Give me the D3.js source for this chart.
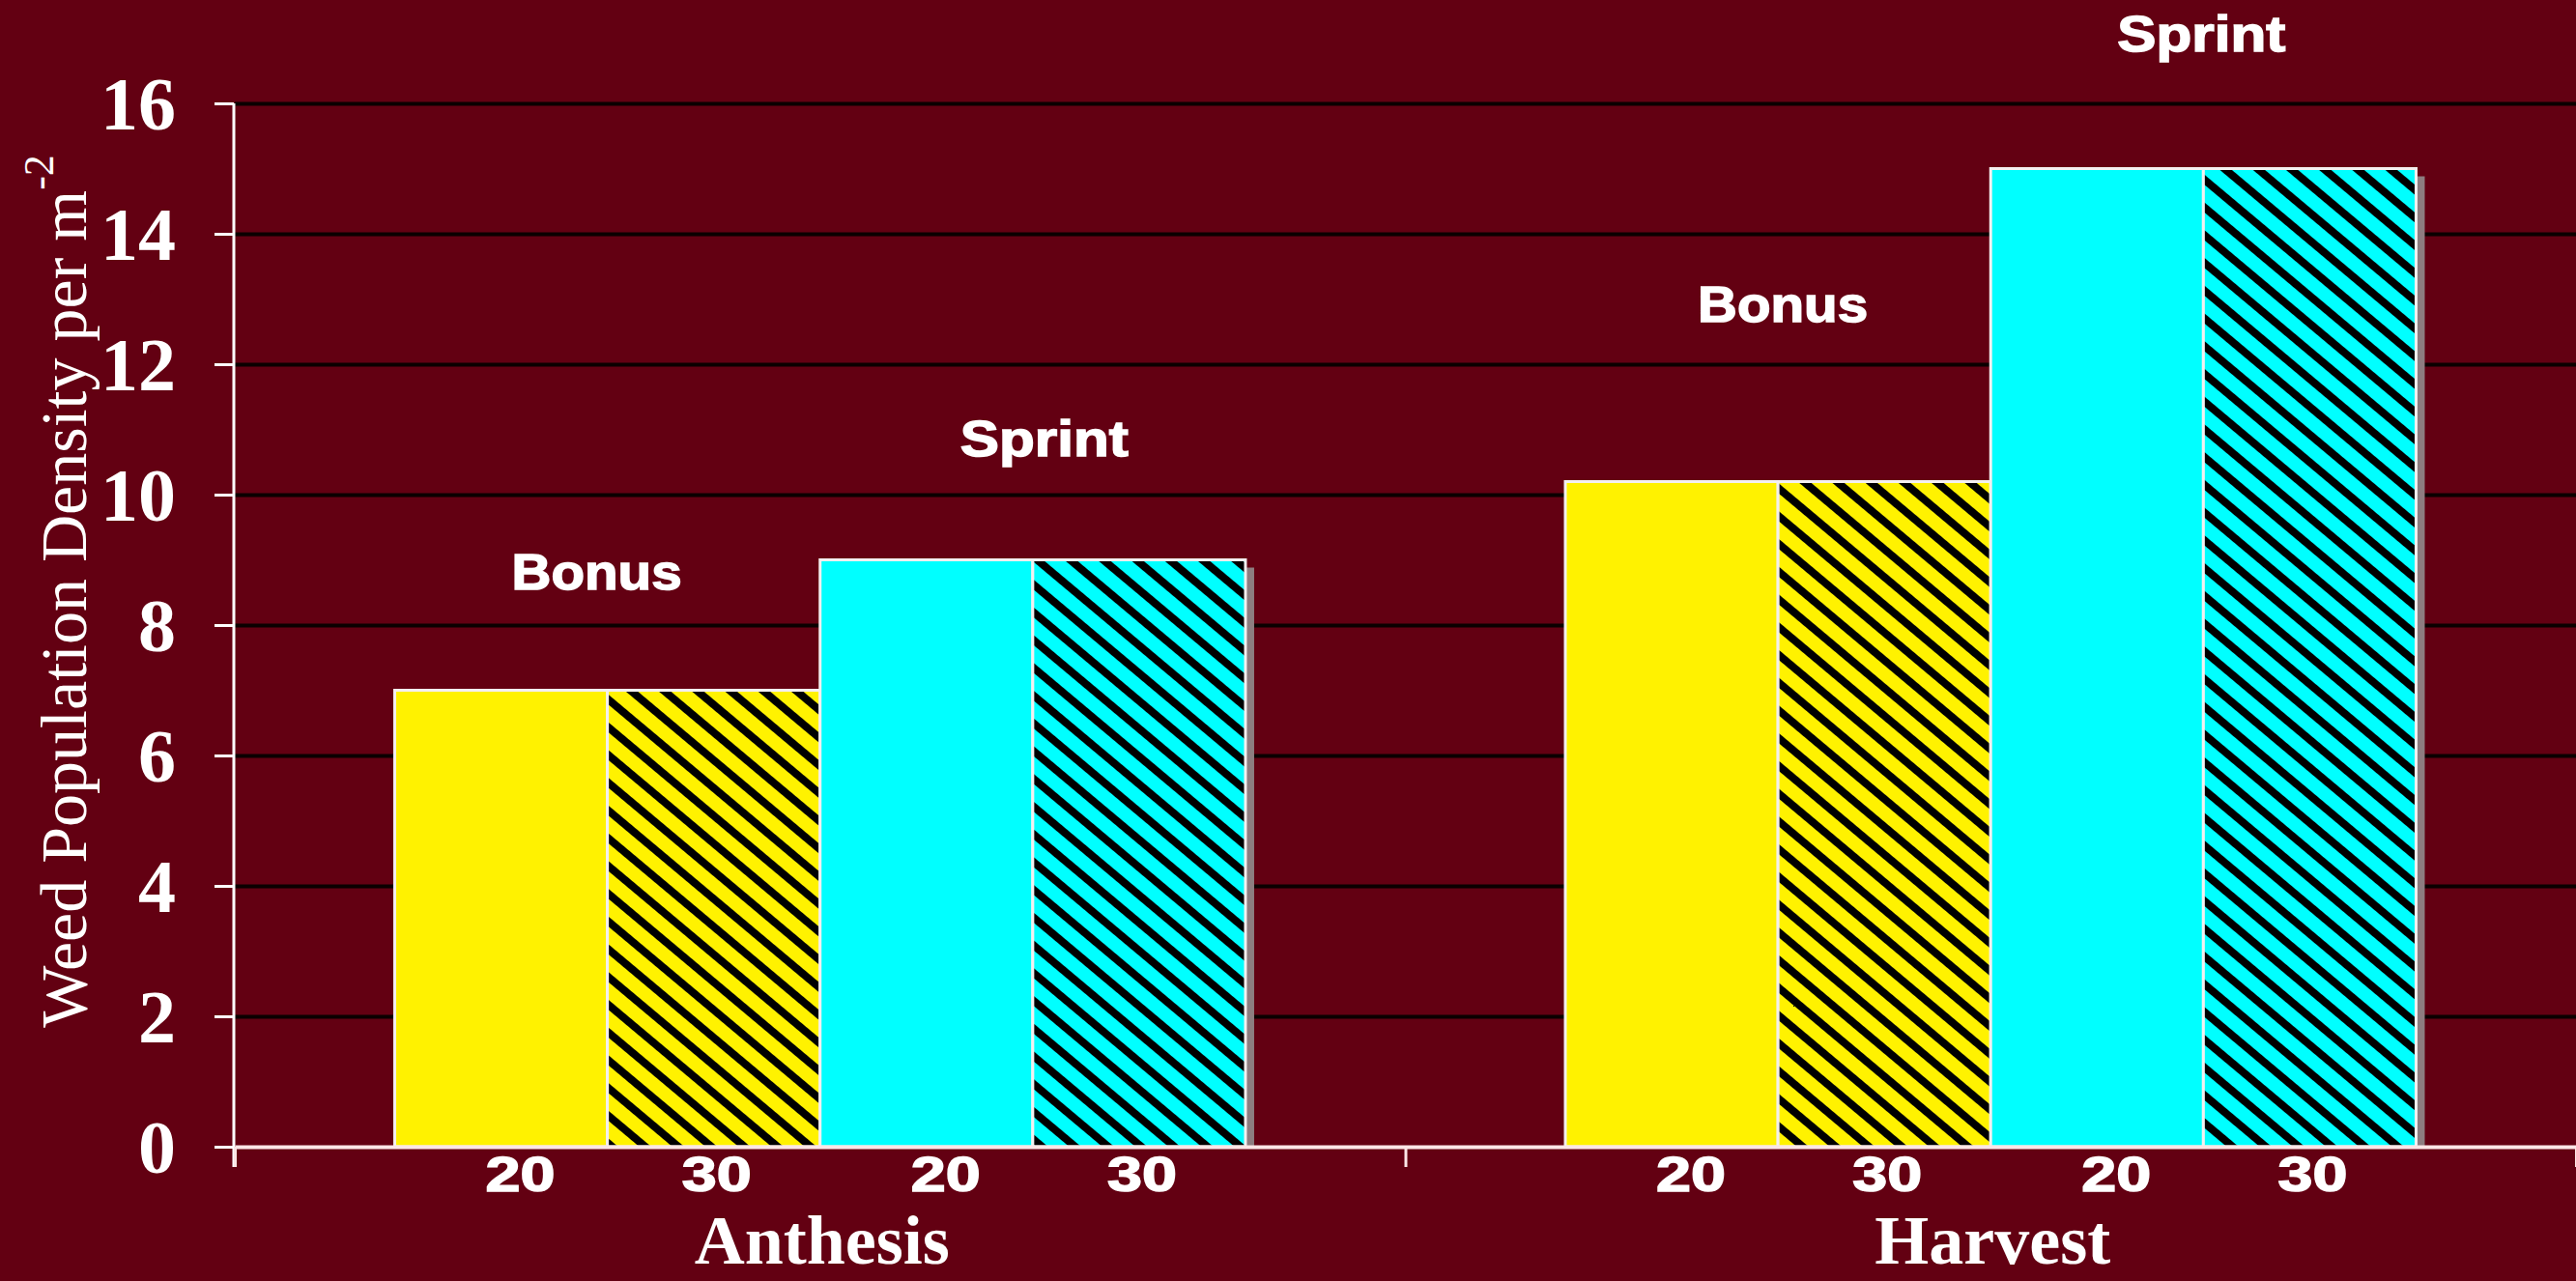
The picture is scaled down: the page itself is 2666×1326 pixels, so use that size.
<!DOCTYPE html>
<html>
<head>
<meta charset="utf-8">
<script src="https://cdn.jsdelivr.net/npm/d3@7"></script>
<style>
  html, body { margin: 0; padding: 0; background: #630012; }
  svg { display: block; }
</style>
</head>
<body>
<svg id="chart" width="2666" height="1326"></svg>
<script>
// ---- data ----
const stages = ["Anthesis", "Harvest"];
const varieties = ["Bonus", "Sprint"];
const rates = ["20", "30"];
const anthesisValues = [7.0, 7.0, 9.0, 9.0];   // Bonus20, Bonus30, Sprint20, Sprint30
const harvestValues = [10.2, 10.2, 15.0, 15.0];
const yTickValues = [0, 2, 4, 6, 8, 10, 12, 14, 16];
const yTitle = "Weed Population Density per m";
const yTitleSup = "-2";

// annotation heights (in data units) of the variety labels, per stage
const anthesisLabelLevels = [8.55, 10.6];
const harvestLabelLevels = [12.65, 16.8];

// ---- layout / style ----
const W = 2666, H = 1326;
const plotLeft = 243, plotRight = 2666, plotTop = 107, plotBottom = 1187;
const colors = { Bonus: "#FFF200", Sprint: "#00FFFF" };
const labelShift = { Anthesis: [-11, 12], Harvest: [5, -2] };
const rateLabelShift = { "20": 20, "30": 3 };

const seriesKeys = [];
varieties.forEach(v => rates.forEach(r => seriesKeys.push(v + "-" + r)));
const valuesByStage = { Anthesis: anthesisValues, Harvest: harvestValues };
const levelsByStage = { Anthesis: anthesisLabelLevels, Harvest: harvestLabelLevels };

const rows = [];
stages.forEach(s => seriesKeys.forEach((k, i) => {
  const [v, r] = k.split("-");
  rows.push({ stage: s, key: k, variety: v, rate: r, value: valuesByStage[s][i] });
}));

const svg = d3.select("#chart");
svg.append("rect").attr("width", W).attr("height", H).attr("fill", "#630012");

const defs = svg.append("defs");
Object.entries(colors).forEach(([name, col]) => {
  const p = defs.append("pattern")
    .attr("id", "hatch-" + name)
    .attr("patternUnits", "userSpaceOnUse")
    .attr("width", 22).attr("height", 22)
    .attr("patternTransform", "rotate(-50)");
  p.append("rect").attr("width", 22).attr("height", 22).attr("fill", col);
  p.append("rect").attr("width", 8).attr("height", 22).attr("fill", "#000");
});

const x0 = d3.scaleBand().domain(stages).range([plotLeft, plotRight]).padding(0);
const x1 = d3.scaleBand().domain(seriesKeys).range([0, x0.bandwidth()])
  .paddingInner(0).paddingOuter(0.752);
const y = d3.scaleLinear().domain([0, 16]).range([plotBottom, plotTop]);

// gridlines
svg.append("g")
  .attr("transform", `translate(${plotLeft},0)`)
  .call(d3.axisLeft(y).tickValues(yTickValues.filter(d => d > 0))
    .tickSize(-(plotRight - plotLeft)).tickFormat(""))
  .call(g => g.select(".domain").remove())
  .call(g => g.selectAll("line").attr("stroke", "#0a0000").attr("stroke-width", 4));

// bar shadows
svg.append("g").selectAll("rect").data(rows).join("rect")
  .attr("x", d => x0(d.stage) + x1(d.key) + 9)
  .attr("y", d => y(d.value) + 8)
  .attr("width", x1.bandwidth())
  .attr("height", d => y(0) - y(d.value) - 8)
  .attr("fill", "#8d7d80");

// bars
svg.append("g").selectAll("rect").data(rows).join("rect")
  .attr("x", d => x0(d.stage) + x1(d.key))
  .attr("y", d => y(d.value))
  .attr("width", x1.bandwidth())
  .attr("height", d => y(0) - y(d.value))
  .attr("fill", d => d.rate === "30" ? `url(#hatch-${d.variety})` : colors[d.variety])
  .attr("stroke", "#f4f0f0")
  .attr("stroke-width", 3);

// y axis
const yAxisG = svg.append("g")
  .attr("transform", `translate(${plotLeft - 1},0)`)
  .call(d3.axisLeft(y).tickValues(yTickValues).tickSize(20).tickPadding(40).tickSizeOuter(0));
yAxisG.select(".domain").attr("stroke", "#fff").attr("stroke-width", 3)
  .attr("d", `M0,${plotTop}V${plotBottom + 21}`);
yAxisG.selectAll("line").attr("stroke", "#fff").attr("stroke-width", 3);
yAxisG.selectAll("text")
  .attr("fill", "#fff")
  .attr("font-family", "'Liberation Serif', 'Times New Roman', serif")
  .attr("font-weight", "bold")
  .attr("font-size", 78)
  .attr("dy", "0.34em");

// x axis (group boundaries)
const xEdge = d3.scaleLinear().domain([0, stages.length]).range([plotLeft, plotRight]);
const xAxisG = svg.append("g")
  .attr("transform", `translate(0,${plotBottom})`)
  .call(d3.axisBottom(xEdge).tickValues(d3.range(stages.length + 1)).tickSize(21).tickFormat("").tickSizeOuter(0));
xAxisG.select(".domain").attr("stroke", "#fbe6e6").attr("stroke-width", 4);
xAxisG.selectAll("line").attr("stroke", "#fbe6e6").attr("stroke-width", 3);

// rate labels
svg.append("g").selectAll("text").data(rows).join("text")
  .attr("x", d => x0(d.stage) + x1(d.key) + x1.bandwidth() / 2 + rateLabelShift[d.rate])
  .attr("y", 1233)
  .attr("text-anchor", "middle")
  .attr("fill", "#fff")
  .attr("stroke", "#fff").attr("stroke-width", 1.5)
  .attr("font-family", "'Liberation Sans', Arial, sans-serif")
  .attr("font-weight", "bold")
  .attr("font-size", 50)
  .attr("textLength", 72)
  .attr("lengthAdjust", "spacingAndGlyphs")
  .text(d => d.rate);

// stage labels
svg.append("g").selectAll("text").data(stages).join("text")
  .attr("x", d => x0(d) + x0.bandwidth() / 2 + 2)
  .attr("y", 1308)
  .attr("text-anchor", "middle")
  .attr("fill", "#fff")
  .attr("font-family", "'Liberation Serif', 'Times New Roman', serif")
  .attr("font-weight", "bold")
  .attr("font-size", 72)
  .text(d => d);

// variety labels above bar pairs
const varietyLabels = [];
stages.forEach(s => varieties.forEach((v, i) => {
  varietyLabels.push({ stage: s, variety: v, level: levelsByStage[s][i], idx: i });
}));
svg.append("g").selectAll("text").data(varietyLabels).join("text")
  .attr("x", d => x0(d.stage) + x1(d.variety + "-" + rates[0]) + x1.bandwidth() + labelShift[d.stage][d.idx])
  .attr("y", d => y(d.level))
  .attr("text-anchor", "middle")
  .attr("fill", "#fff")
  .attr("stroke", "#fff").attr("stroke-width", 1.5)
  .attr("font-family", "'Liberation Sans', Arial, sans-serif")
  .attr("font-weight", "bold")
  .attr("font-size", 52)
  .attr("textLength", d => d.variety === "Bonus" ? 176 : 174)
  .attr("lengthAdjust", "spacingAndGlyphs")
  .text(d => d.variety);

// y title
const yt = svg.append("text")
  .attr("transform", `translate(89,${y(8) - 35}) rotate(-90)`)
  .attr("text-anchor", "middle")
  .attr("fill", "#fff")
  .attr("font-family", "'Liberation Serif', 'Times New Roman', serif")
  .attr("font-size", 68);
yt.append("tspan").text(yTitle);
yt.append("tspan").attr("dy", -34).attr("font-size", 44).text(yTitleSup);
</script>
</body>
</html>
